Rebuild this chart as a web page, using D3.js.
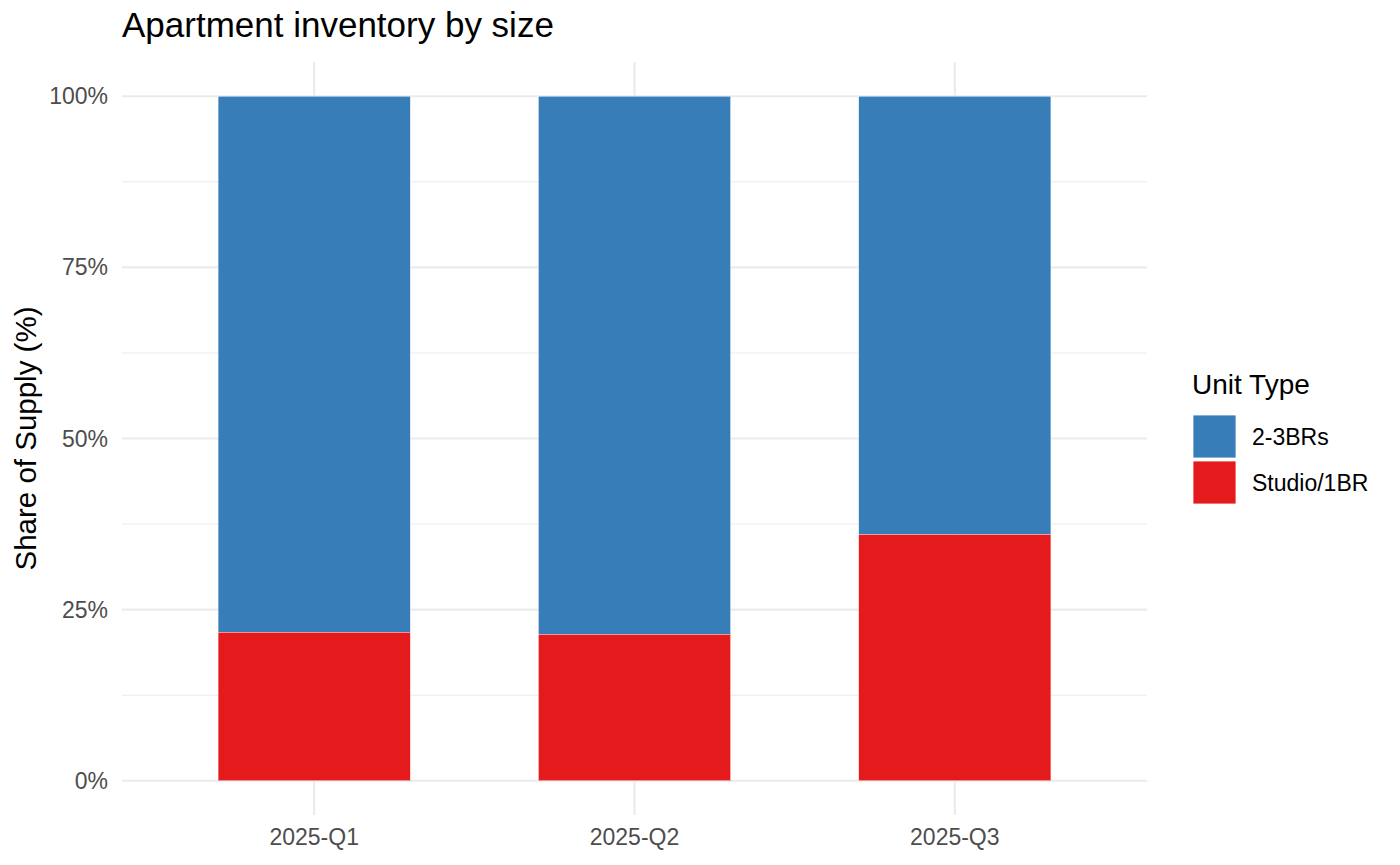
<!DOCTYPE html>
<html>
<head>
<meta charset="utf-8">
<script src="https://cdn.jsdelivr.net/npm/d3@7"></script>
<style>
  body { margin: 0; background: #fff; }
  text { font-family: "Liberation Sans", Arial, sans-serif; }
</style>
</head>
<body>
<div id="chart"></div>
<script>
// Data
const quarters = ["2025-Q1", "2025-Q2", "2025-Q3"];
const studio1BR = [21.7, 21.4, 36.0];
const twoThreeBR = [78.3, 78.6, 64.0];
const unitTypes = ["2-3BRs", "Studio/1BR"];
const unitColors = ["#377EB8", "#E41A1C"];
const yTicks = [0, 25, 50, 75, 100];
const yMinor = [12.5, 37.5, 62.5, 87.5];

const W = 1400, H = 865;
const panel = {left: 122, right: 1147, top: 62, bottom: 815};

const svg = d3.select("#chart")
  .append("svg")
    .attr("width", W)
    .attr("height", H);

// Scales
const x = d3.scaleLinear()
  .domain([0.4, quarters.length + 0.6])
  .range([panel.left, panel.right]);
const y = d3.scaleLinear()
  .domain([-5, 105])
  .range([panel.bottom, panel.top]);
const barW = (x(1) - x(0)) * 0.6;

// Grid
svg.append("g").selectAll("line")
  .data(yMinor)
  .join("line")
    .attr("x1", panel.left).attr("x2", panel.right)
    .attr("y1", d => y(d)).attr("y2", d => y(d))
    .attr("stroke", "#ebebeb").attr("stroke-width", 1.1);
svg.append("g").selectAll("line")
  .data(yTicks)
  .join("line")
    .attr("x1", panel.left).attr("x2", panel.right)
    .attr("y1", d => y(d)).attr("y2", d => y(d))
    .attr("stroke", "#ebebeb").attr("stroke-width", 2.2);
svg.append("g").selectAll("line")
  .data(quarters)
  .join("line")
    .attr("x1", (d, i) => x(i + 1)).attr("x2", (d, i) => x(i + 1))
    .attr("y1", panel.top).attr("y2", panel.bottom)
    .attr("stroke", "#ebebeb").attr("stroke-width", 2.2);

// Stacked bars
const rows = quarters.map((q, i) => ({q, i, studio: studio1BR[i], big: twoThreeBR[i]}));
const bars = svg.append("g");
bars.selectAll("rect.big")
  .data(rows)
  .join("rect")
    .attr("class", "big")
    .attr("x", d => x(d.i + 1) - barW / 2)
    .attr("width", barW)
    .attr("y", d => y(d.studio + d.big))
    .attr("height", d => y(d.studio) - y(d.studio + d.big))
    .attr("fill", unitColors[0])
    .attr("stroke", "#fff").attr("stroke-width", 0.4);
bars.selectAll("rect.studio")
  .data(rows)
  .join("rect")
    .attr("class", "studio")
    .attr("x", d => x(d.i + 1) - barW / 2)
    .attr("width", barW)
    .attr("y", d => y(d.studio))
    .attr("height", d => y(0) - y(d.studio))
    .attr("fill", unitColors[1])
    .attr("stroke", "#fff").attr("stroke-width", 0.4);

// Axis labels
svg.append("g").selectAll("text")
  .data(yTicks)
  .join("text")
    .attr("x", 108)
    .attr("y", d => y(d))
    .attr("dy", "0.35em")
    .attr("text-anchor", "end")
    .attr("font-size", 23)
    .attr("fill", "#4d4d4d")
    .text(d => d + "%");
svg.append("g").selectAll("text")
  .data(quarters)
  .join("text")
    .attr("x", (d, i) => x(i + 1))
    .attr("y", 845)
    .attr("text-anchor", "middle")
    .attr("font-size", 23)
    .attr("fill", "#4d4d4d")
    .text(d => d);

svg.append("text")
  .attr("transform", `translate(36,${(y(0) + y(100)) / 2})rotate(-90)`)
  .attr("text-anchor", "middle")
  .attr("font-size", 29.5)
  .attr("fill", "#000")
  .text("Share of Supply (%)");

svg.append("text")
  .attr("x", 122).attr("y", 37)
  .attr("font-size", 35)
  .attr("fill", "#000")
  .text("Apartment inventory by size");

// Legend
const legend = svg.append("g").attr("transform", "translate(1193,0)");
legend.append("text")
  .attr("x", -1).attr("y", 394)
  .attr("font-size", 28)
  .text("Unit Type");
unitTypes.forEach((t, i) => {
  legend.append("rect")
    .attr("x", 0).attr("y", 415 + i * 46)
    .attr("width", 43).attr("height", 43)
    .attr("fill", unitColors[i])
    .attr("stroke", "#fff").attr("stroke-width", 0.8);
  legend.append("text")
    .attr("x", 59).attr("y", 415 + i * 46 + 21.5)
    .attr("dy", "0.35em")
    .attr("font-size", 23)
    .text(t);
});
</script>
</body>
</html>
